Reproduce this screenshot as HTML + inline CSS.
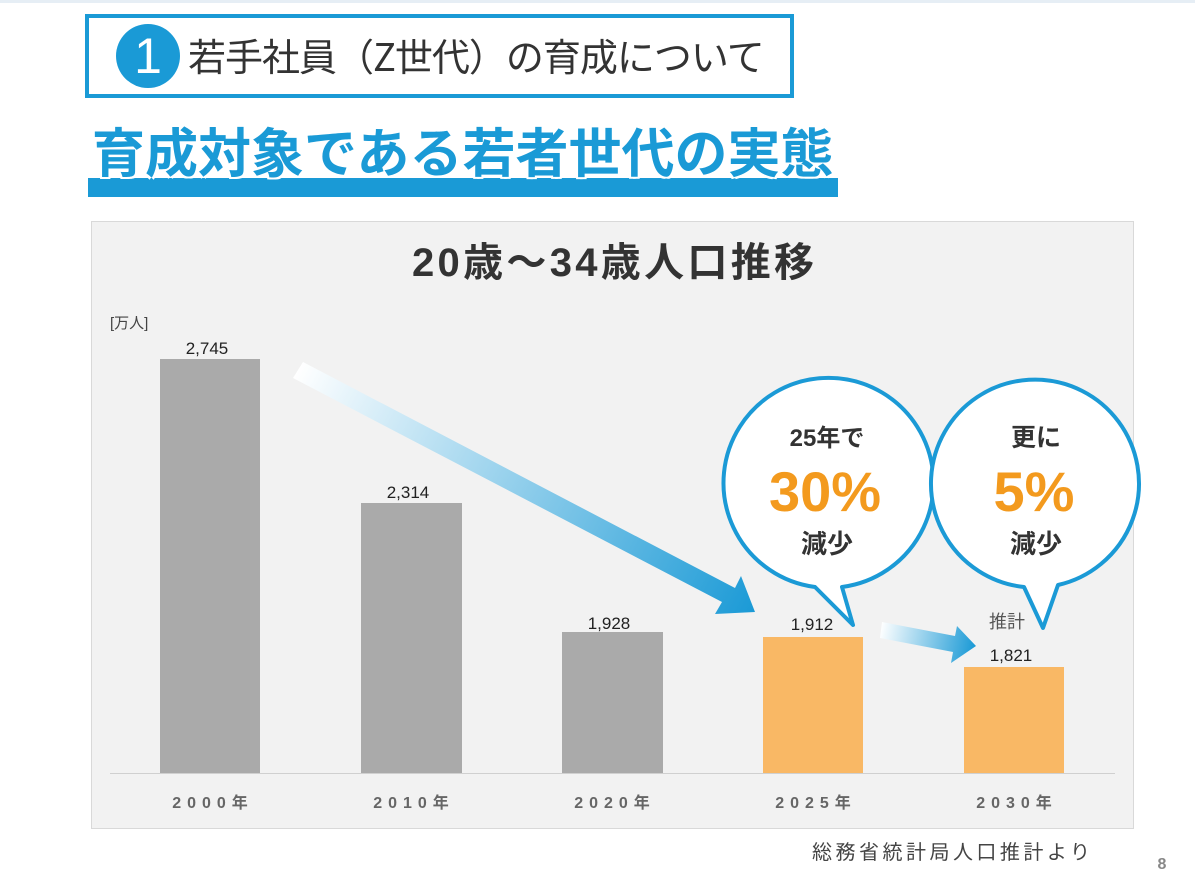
<!DOCTYPE html>
<html><head><meta charset="utf-8"><style>
body{margin:0;width:1195px;height:888px;background:#fff;position:relative;overflow:hidden;font-family:"Liberation Sans","Noto Sans CJK JP",sans-serif;}
.a{position:absolute;}
</style></head><body>
<div class="a" style="left:0;top:0;width:1195px;height:3px;background:#e6eef5"></div>
<div class="a" style="left:85px;top:14px;width:701px;height:76px;border:4px solid #1a9ad6;background:#fff"></div>
<div class="a" style="left:116px;top:24px;width:64px;height:64px;border-radius:50%;background:#1a9ad6;color:#fff;font-size:50px;line-height:64px;text-align:center;font-weight:300">1</div>
<div class="a" style="left:188px;top:30px;font-size:38px;line-height:50px;color:#333;white-space:nowrap;font-family:'Noto Sans CJK JP',sans-serif;letter-spacing:-1px">若手社員（Z世代）の育成について</div>
<div class="a" style="left:88px;top:178px;width:750px;height:19px;background:#1a9ad6"></div>
<div class="a" style="left:92px;top:122px;font-size:53px;line-height:66px;font-weight:bold;color:#1a9ad6;white-space:nowrap;letter-spacing:0px;text-shadow:2px 2px 0 #fff,-2px -2px 0 #fff,2px -2px 0 #fff,-2px 2px 0 #fff">育成対象である若者世代の実態</div>
<div class="a" style="left:91px;top:221px;width:1041px;height:606px;background:#f2f2f2;border:1px solid #d9d9d9"></div>
<svg class="a" style="left:0;top:0" width="1195" height="888">
<defs>
<linearGradient id="g1" x1="298" y1="370" x2="755" y2="610" gradientUnits="userSpaceOnUse"><stop offset="0" stop-color="#fff"/><stop offset="1" stop-color="#1b9ad6"/></linearGradient>
<linearGradient id="g2" x1="880" y1="630" x2="975" y2="648" gradientUnits="userSpaceOnUse"><stop offset="0" stop-color="#fff"/><stop offset="1" stop-color="#1b9ad6"/></linearGradient>
</defs>
<text x="613" y="276" font-size="40" text-anchor="middle" fill="#333" font-family="Liberation Sans,Noto Sans CJK JP,sans-serif" font-weight="bold" textLength="402">20歳～34歳人口推移</text>
<text x="110" y="328" font-size="15" fill="#444" font-family="Liberation Sans,Noto Sans CJK JP,sans-serif">[万人]</text>
<line x1="110" y1="773.5" x2="1115" y2="773.5" stroke="#d0d0d0"/>
<rect x="160" y="359" width="100" height="414" fill="#aaaaaa"/>
<rect x="361" y="503" width="101" height="270" fill="#aaaaaa"/>
<rect x="562" y="632" width="101" height="141" fill="#aaaaaa"/>
<rect x="763" y="637" width="100" height="136" fill="#f9b865"/>
<rect x="964" y="667" width="100" height="106" fill="#f9b865"/>
<g font-size="17" fill="#222" text-anchor="middle" font-family="Liberation Sans,sans-serif">
<text x="207" y="354">2,745</text><text x="408" y="498">2,314</text><text x="609" y="629">1,928</text><text x="812" y="630">1,912</text><text x="1011" y="661">1,821</text></g>
<text x="1007" y="628" font-size="18" fill="#555" text-anchor="middle" font-family="Noto Sans CJK JP,sans-serif">推計</text>
<g font-size="16" fill="#666" text-anchor="middle" letter-spacing="6" font-weight="bold" font-family="Liberation Sans,Noto Sans CJK JP,sans-serif">
<text x="213" y="808">2000年</text><text x="414" y="808">2010年</text><text x="615" y="808">2020年</text><text x="816" y="808">2025年</text><text x="1017" y="808">2030年</text></g>
<path d="M303,362 L735,588 L741,576 L755,612 L715,614 L722,602 L293,378 Z" fill="url(#g1)"/>
<path d="M882,622 L955,636 L957,626 L976,646 L951,663 L953,652 L880,638 Z" fill="url(#g2)"/>
<path d="M815,587 A105,105 0 1 1 842,587 L853,625 Z" fill="#fff" stroke="#1b9ad6" stroke-width="4" stroke-linejoin="round"/>
<path d="M1024,587 A104,104 0 1 1 1058,585 L1043,628 Z" fill="#fff" stroke="#1b9ad6" stroke-width="4" stroke-linejoin="round"/>
<g font-family="Liberation Sans,Noto Sans CJK JP,sans-serif" font-weight="bold" text-anchor="middle">
<text x="827" y="446" font-size="24" fill="#333">25年で</text>
<text x="825" y="511" font-size="56" fill="#f39a1e">30%</text>
<text x="827" y="553" font-size="26" fill="#333">減少</text>
<text x="1036" y="446" font-size="25" fill="#333">更に</text>
<text x="1034" y="511" font-size="56" fill="#f39a1e">5%</text>
<text x="1036" y="553" font-size="26" fill="#333">減少</text>
</g>
<text x="951" y="859" font-size="20" fill="#444" text-anchor="middle" font-family="Noto Sans CJK JP,sans-serif" textLength="278">総務省統計局人口推計より</text>
<text x="1162" y="869" font-size="16" fill="#888" text-anchor="middle" font-weight="bold" font-family="Liberation Sans,sans-serif">8</text>
</svg>
</body></html>
